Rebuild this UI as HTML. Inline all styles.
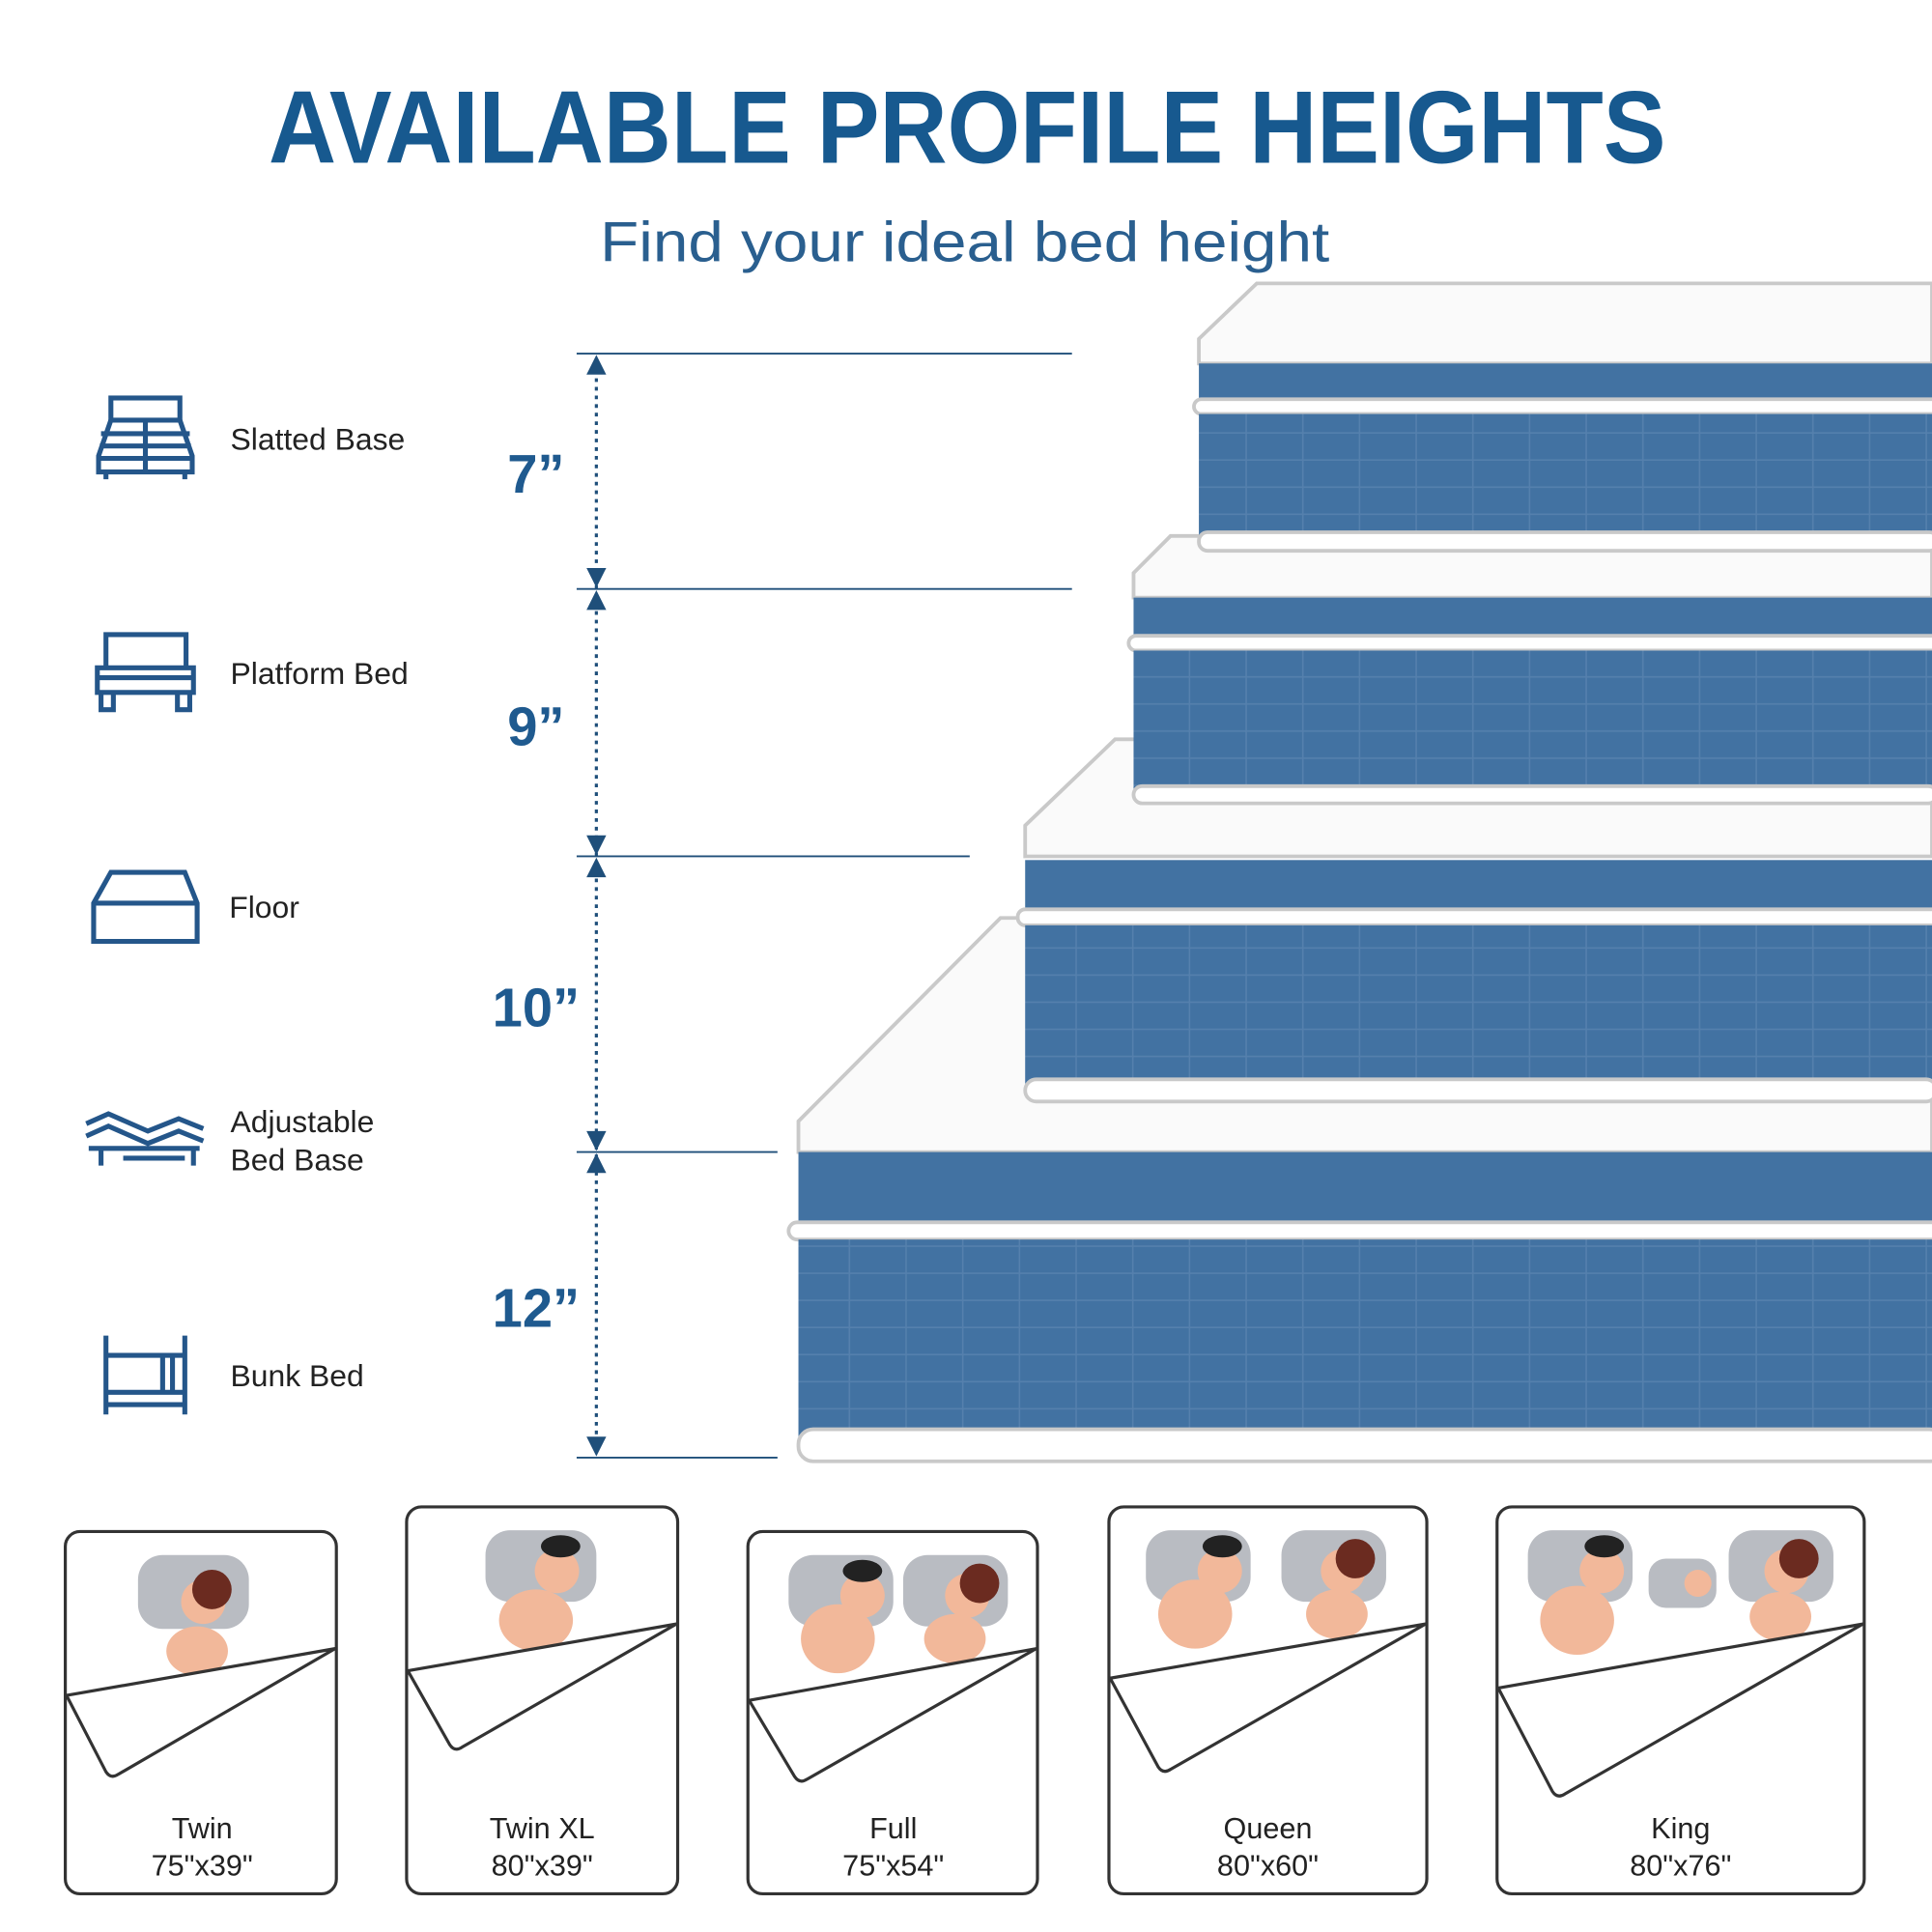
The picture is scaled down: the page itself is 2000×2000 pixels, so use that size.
<!DOCTYPE html>
<html><head><meta charset="utf-8"><style>
html,body{margin:0;padding:0;background:#fff;width:2000px;height:2000px;overflow:hidden}
svg{display:block}
text{font-family:"Liberation Sans",sans-serif}
</style></head><body>
<svg width="2000" height="2000" viewBox="0 0 1568 1568" xmlns="http://www.w3.org/2000/svg">
<defs>
<pattern id="grid" width="46" height="22" patternUnits="userSpaceOnUse">
<rect width="46" height="22" fill="#4272a2"/>
<path d="M0 21.5H46M45.5 0V22" stroke="#5580ad" stroke-width="1.5"/>
</pattern>
</defs>
<rect width="1568" height="1568" fill="#fff"/>
<text x="785" y="132" text-anchor="middle" font-size="84" font-weight="bold" fill="#17598f" textLength="1134" lengthAdjust="spacingAndGlyphs">AVAILABLE PROFILE HEIGHTS</text>
<text x="783" y="212" text-anchor="middle" font-size="46" fill="#2a5f8f" textLength="592" lengthAdjust="spacingAndGlyphs">Find your ideal bed height</text>

<g stroke="#c9c9c9" stroke-width="3">
 <polygon points="648,935 648,910 812,745 1568,745 1568,935" fill="#fafafa"/>
 <rect x="648" y="935" width="930" height="62" fill="#4272a2" stroke="none"/>
 <rect x="640" y="992" width="940" height="14" rx="7" fill="#fff"/>
 <rect x="648" y="1006" width="930" height="160" fill="url(#grid)" stroke="none"/>
 <rect x="648" y="1160" width="930" height="26" rx="12" fill="#fff"/>
 <polygon points="832,695 832,670 905,600 1568,600 1568,695" fill="#fafafa"/>
 <rect x="832" y="698" width="740" height="44" fill="#4272a2" stroke="none"/>
 <rect x="826" y="738" width="750" height="13" rx="6" fill="#fff"/>
 <rect x="832" y="751" width="740" height="130" fill="url(#grid)" stroke="none"/>
 <rect x="832" y="876" width="740" height="18" rx="9" fill="#fff"/>
 <polygon points="920,485 920,465 950,435 1568,435 1568,485" fill="#fafafa"/>
 <rect x="920" y="485" width="652" height="35" fill="#4272a2" stroke="none"/>
 <rect x="916" y="516" width="660" height="12" rx="6" fill="#fff"/>
 <rect x="920" y="528" width="652" height="114" fill="url(#grid)" stroke="none"/>
 <rect x="920" y="638" width="652" height="14" rx="7" fill="#fff"/>
 <polygon points="973,295 973,275 1020,230 1568,230 1568,295" fill="#fafafa"/>
 <rect x="973" y="295" width="600" height="32" fill="#4272a2" stroke="none"/>
 <rect x="969" y="324" width="610" height="12" rx="6" fill="#fff"/>
 <rect x="973" y="336" width="600" height="100" fill="url(#grid)" stroke="none"/>
 <rect x="973" y="432" width="600" height="15" rx="7" fill="#fff"/>
</g>

<g stroke="#1f4f7a" stroke-width="1.5">
 <line x1="468" y1="287" x2="870" y2="287"/>
 <line x1="468" y1="478" x2="870" y2="478"/>
 <line x1="468" y1="695" x2="787" y2="695"/>
 <line x1="468" y1="935" x2="631" y2="935"/>
 <line x1="468" y1="1183" x2="631" y2="1183"/>
 <line x1="484" y1="300" x2="484" y2="1170" stroke-dasharray="3 4" stroke-width="2.5"/>
</g>
<g fill="#1f4f7a">
 <polygon points="476,304 492,304 484,288"/><polygon points="476,461 492,461 484,477"/>
 <polygon points="476,495 492,495 484,479"/><polygon points="476,678 492,678 484,694"/>
 <polygon points="476,712 492,712 484,696"/><polygon points="476,918 492,918 484,934"/>
 <polygon points="476,952 492,952 484,936"/><polygon points="476,1166 492,1166 484,1182"/>
</g>
<g font-size="44" font-weight="bold" fill="#1f5a8f" text-anchor="middle">
 <text x="435" y="400">7”</text><text x="435" y="605">9”</text>
 <text x="435" y="833">10”</text><text x="435" y="1077">12”</text>
</g>

<g stroke="#24568a" stroke-width="4" fill="none">
 <rect x="90" y="323" width="56" height="18"/>
 <path d="M90 341 L80 370 L80 383 L156 383 L156 370 L146 341 M82 352H154M81 362H155M80 372H156M118 341V383M86 383V389M150 383V389"/>
 <path d="M86 540V515H151V540 M79 542H157V562H79Z M82 562V576H92V562 M144 562V576H154V562 M79 550H157"/>
 <path d="M90 708H150L160 733V764H76V733Z M76 733H160"/>
 <path d="M70 912 L88 904 L120 918 L145 908 L165 916 M70 922 L88 914 L120 928 L145 918 L165 926 M72 932H162 M82 932V946 M157 932V946 M100 940H150"/>
 <path d="M86 1084V1148 M150 1084V1148 M86 1100H150 M86 1130H150 M86 1140H150 M132 1100V1130 M140 1100V1130"/>
</g>
<g font-size="25" fill="#222">
 <text x="187" y="365">Slatted Base</text>
 <text x="187" y="555">Platform Bed</text>
 <text x="186" y="745">Floor</text>
 <text x="187" y="919">Adjustable</text><text x="187" y="950">Bed Base</text>
 <text x="187" y="1125">Bunk Bed</text>
</g>

<g stroke="#333" stroke-width="2.5" fill="#fff">
 <rect x="53" y="1243" width="220" height="294" rx="12"/>
 <rect x="330" y="1223" width="220" height="314" rx="12"/>
 <rect x="607" y="1243" width="235" height="294" rx="12"/>
 <rect x="900" y="1223" width="258" height="314" rx="12"/>
 <rect x="1215" y="1223" width="298" height="314" rx="12"/>
</g>
<g>
 <g fill="#b9bcc2"><rect x="112" y="1262" width="90" height="60" rx="20"/><rect x="394" y="1242" width="90" height="58" rx="20"/>
 <rect x="640" y="1262" width="85" height="58" rx="20"/><rect x="733" y="1262" width="85" height="58" rx="20"/>
 <rect x="930" y="1242" width="85" height="58" rx="20"/><rect x="1040" y="1242" width="85" height="58" rx="20"/>
 <rect x="1240" y="1242" width="85" height="58" rx="20"/><rect x="1338" y="1265" width="55" height="40" rx="14"/><rect x="1403" y="1242" width="85" height="58" rx="20"/></g>
 <g fill="#f2b89a">
 <circle cx="165" cy="1300" r="18"/><ellipse cx="160" cy="1340" rx="25" ry="20"/>
 <circle cx="452" cy="1275" r="18"/><ellipse cx="435" cy="1315" rx="30" ry="25"/>
 <circle cx="700" cy="1295" r="18"/><ellipse cx="680" cy="1330" rx="30" ry="28"/>
 <circle cx="785" cy="1295" r="18"/><ellipse cx="775" cy="1330" rx="25" ry="20"/>
 <circle cx="990" cy="1275" r="18"/><ellipse cx="970" cy="1310" rx="30" ry="28"/>
 <circle cx="1090" cy="1275" r="18"/><ellipse cx="1085" cy="1310" rx="25" ry="20"/>
 <circle cx="1300" cy="1275" r="18"/><ellipse cx="1280" cy="1315" rx="30" ry="28"/>
 <circle cx="1378" cy="1285" r="11"/>
 <circle cx="1450" cy="1275" r="18"/><ellipse cx="1445" cy="1312" rx="25" ry="20"/></g>
 <g fill="#6b2b20"><circle cx="172" cy="1290" r="16"/><circle cx="795" cy="1285" r="16"/><circle cx="1100" cy="1265" r="16"/><circle cx="1460" cy="1265" r="16"/></g>
 <g fill="#222"><ellipse cx="455" cy="1255" rx="16" ry="9"/><ellipse cx="700" cy="1275" rx="16" ry="9"/><ellipse cx="992" cy="1255" rx="16" ry="9"/><ellipse cx="1302" cy="1255" rx="16" ry="9"/></g>
</g>
<g stroke="#333" stroke-width="2.5" fill="#fff" stroke-linejoin="round">
 <path d="M54 1376 L272 1338 L96 1440 Q90 1444 86 1438 Z"/>
 <path d="M331 1356 L549 1318 L375 1418 Q369 1422 365 1416 Z"/>
 <path d="M608 1380 L841 1338 L655 1444 Q649 1448 645 1442 Z"/>
 <path d="M901 1362 L1157 1318 L950 1436 Q944 1440 940 1434 Z"/>
 <path d="M1216 1370 L1512 1318 L1270 1456 Q1264 1460 1260 1454 Z"/>
</g>
<g font-size="24" fill="#222" text-anchor="middle">
 <text x="164" y="1492">Twin</text><text x="164" y="1522">75"x39"</text>
 <text x="440" y="1492">Twin XL</text><text x="440" y="1522">80"x39"</text>
 <text x="725" y="1492">Full</text><text x="725" y="1522">75"x54"</text>
 <text x="1029" y="1492">Queen</text><text x="1029" y="1522">80"x60"</text>
 <text x="1364" y="1492">King</text><text x="1364" y="1522">80"x76"</text>
</g>
</svg>
</body></html>
